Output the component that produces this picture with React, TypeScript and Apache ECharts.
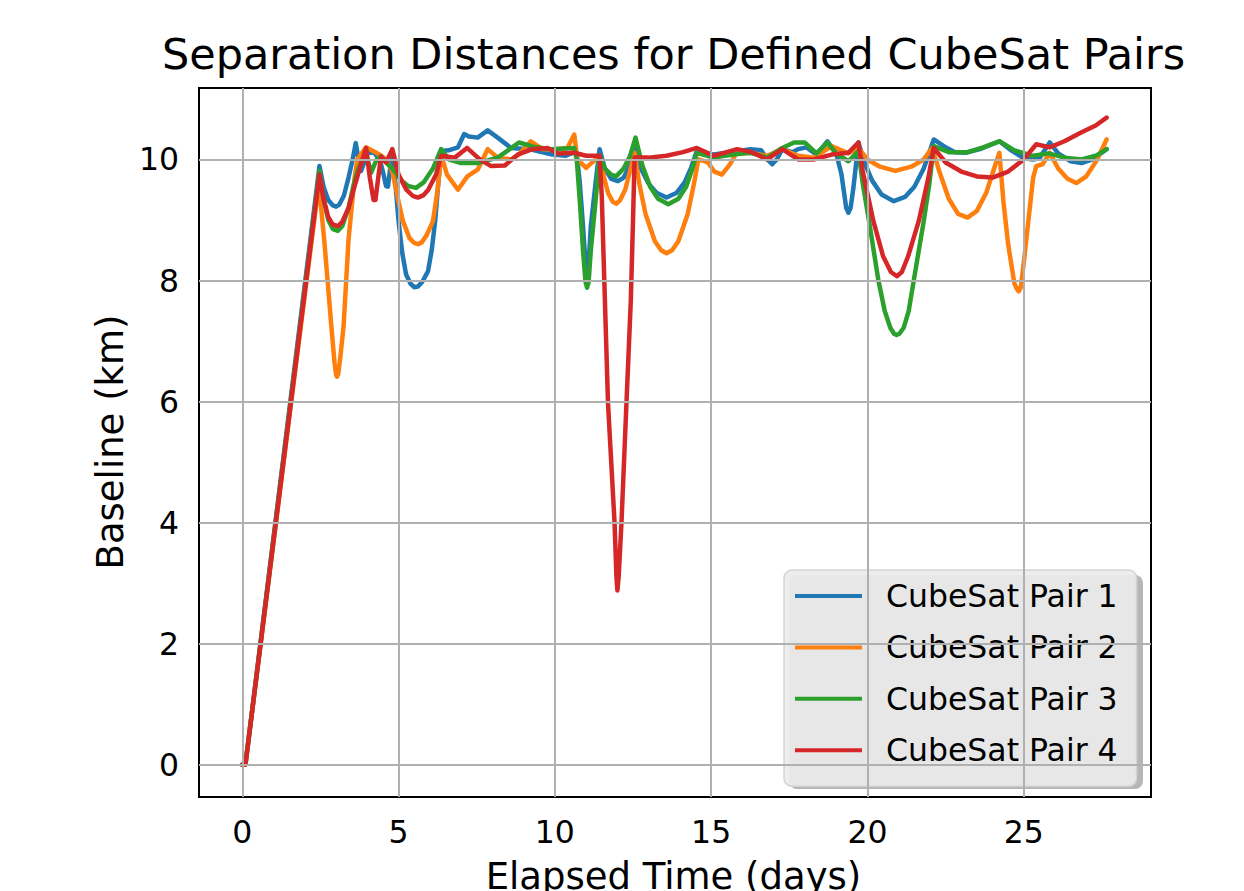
import React, { useEffect, useRef } from 'react';
import * as echarts from 'echarts';

const titleText = 'Separation Distances for Defined CubeSat Pairs';
const xLabel = 'Elapsed Time (days)';
const yLabel = 'Baseline (km)';
const seriesNames = ['CubeSat Pair 1', 'CubeSat Pair 2', 'CubeSat Pair 3', 'CubeSat Pair 4'];
const seriesColors = ['#1f77b4', '#ff7f0e', '#2ca02c', '#d62728'];
const xTicks = [0, 5, 10, 15, 20, 25];
const yTicks = [0, 2, 4, 6, 8, 10];

const pair1 = [
  [0, 0], [0.1, 0], [2.47, 9.89],
  [2.6, 9.55], [2.75, 9.33], [2.9, 9.24], [3.0, 9.22], [3.1, 9.25], [3.25, 9.4], [3.4, 9.7], [3.53, 10.0], [3.63, 10.27],
  [3.72, 10.0], [3.8, 9.81], [3.9, 9.95], [4.0, 10.1], [4.2, 10.12], [4.4, 10.0], [4.52, 9.75], [4.6, 9.56], [4.66, 9.55], [4.72, 9.8], [4.8, 10.14],
  [4.9, 9.6], [5.0, 8.98], [5.12, 8.45], [5.24, 8.1], [5.38, 7.95], [5.5, 7.89], [5.62, 7.9], [5.76, 7.98], [5.94, 8.15], [6.06, 8.5], [6.17, 8.98], [6.27, 9.6], [6.36, 10.14],
  [6.6, 10.15], [6.9, 10.2], [7.1, 10.42], [7.25, 10.38], [7.53, 10.36], [7.85, 10.48], [8.17, 10.36], [8.6, 10.19], [9.17, 10.17], [9.92, 10.08], [10.35, 10.06], [10.62, 10.12],
  [10.7, 10.1], [10.8, 9.6], [10.9, 8.9], [10.98, 8.28], [11.03, 8.18], [11.08, 8.28], [11.15, 8.9], [11.3, 9.6], [11.43, 10.17],
  [11.6, 9.85], [11.8, 9.68], [12.02, 9.64], [12.2, 9.7], [12.4, 9.9], [12.55, 10.2],
  [12.75, 9.85], [13.0, 9.6], [13.25, 9.45], [13.57, 9.37], [13.9, 9.45], [14.15, 9.62], [14.35, 9.85], [14.54, 10.14],
  [15.08, 10.08], [15.6, 10.12], [16.26, 10.17], [16.6, 10.15], [16.8, 10.0], [16.95, 9.92], [17.1, 10.0], [17.27, 10.17], [17.6, 10.12], [17.78, 10.17], [18.05, 10.2], [18.37, 10.08], [18.72, 10.3], [19.01, 10.08], [19.17, 9.75], [19.32, 9.2], [19.39, 9.12], [19.46, 9.2], [19.55, 9.53], [19.71, 10.28],
  [19.9, 9.95], [20.15, 9.65], [20.45, 9.42], [20.84, 9.31], [21.2, 9.38], [21.5, 9.55], [21.8, 9.85], [22.12, 10.33],
  [22.5, 10.2], [22.8, 10.12], [23.14, 10.11], [23.6, 10.17], [24.22, 10.3], [24.6, 10.15], [25.0, 10.02], [25.29, 10.0], [25.5, 10.02], [25.83, 10.28], [26.1, 10.1], [26.5, 9.97], [26.85, 9.94], [27.2, 10.0], [27.65, 10.17],
];

const pair2 = [
  [0, 0], [0.1, 0], [2.45, 9.6], [2.63, 8.62], [2.85, 7.24], [2.95, 6.65], [3.0, 6.45], [3.03, 6.41], [3.07, 6.45], [3.14, 6.75], [3.24, 7.24], [3.4, 8.68], [3.59, 9.68], [3.68, 10.0], [3.96, 10.2], [4.39, 10.08],
  [4.6, 10.0], [4.8, 9.8], [5.0, 9.3], [5.14, 8.98], [5.35, 8.7], [5.5, 8.62], [5.62, 8.6], [5.74, 8.63], [5.9, 8.75], [6.1, 8.98], [6.25, 9.5], [6.36, 10.08],
  [6.55, 9.75], [6.9, 9.5], [7.2, 9.72], [7.53, 9.83], [7.85, 10.17], [8.17, 10.03], [8.6, 10.0], [8.85, 10.08], [9.23, 10.3], [9.6, 10.17], [10.0, 10.17], [10.4, 10.19], [10.62, 10.41], [10.72, 10.0], [11.0, 9.86], [11.3, 10.0], [11.43, 10.06],
  [11.55, 9.75], [11.7, 9.45], [11.85, 9.3], [11.96, 9.27], [12.08, 9.32], [12.25, 9.5], [12.4, 9.8], [12.55, 10.11],
  [12.7, 9.6], [12.9, 9.1], [13.2, 8.65], [13.4, 8.5], [13.57, 8.45], [13.75, 8.5], [13.95, 8.65], [14.25, 9.1], [14.45, 9.6], [14.59, 10.0],
  [14.9, 9.95], [15.1, 9.8], [15.34, 9.75], [15.6, 9.92], [15.8, 10.1], [16.26, 10.11], [16.8, 10.06], [17.27, 10.17], [17.78, 10.06], [18.3, 10.03], [18.85, 10.22], [19.39, 10.1], [19.71, 10.19],
  [20.0, 10.0], [20.4, 9.88], [20.89, 9.81], [21.4, 9.88], [21.8, 10.0], [22.07, 10.19],
  [22.3, 9.8], [22.6, 9.35], [22.9, 9.1], [23.2, 9.04], [23.5, 9.15], [23.8, 9.45], [24.05, 9.85], [24.22, 10.11],
  [24.35, 9.3], [24.5, 8.6], [24.7, 7.95], [24.79, 7.85], [24.84, 7.82], [24.9, 7.88], [24.98, 8.2], [25.15, 9.0], [25.3, 9.7], [25.4, 9.89], [25.6, 9.92], [25.83, 10.11],
  [26.1, 9.85], [26.4, 9.68], [26.68, 9.61], [27.0, 9.72], [27.35, 10.0], [27.65, 10.33],
];

const pair3 = [
  [0, 0], [0.1, 0], [2.47, 9.81], [2.6, 9.35], [2.75, 9.0], [2.9, 8.85], [3.06, 8.82], [3.2, 8.9], [3.4, 9.2], [3.55, 9.55], [3.7, 9.83], [3.85, 10.0], [3.96, 10.1], [4.12, 9.78], [4.3, 10.0], [4.44, 10.05], [4.6, 9.95],
  [4.8, 9.85], [5.1, 9.65], [5.3, 9.56], [5.56, 9.53], [5.8, 9.62], [6.1, 9.85], [6.36, 10.17],
  [6.6, 10.0], [7.0, 9.94], [7.53, 9.94], [8.17, 10.03], [8.5, 10.15], [8.85, 10.28], [9.4, 10.2], [9.9, 10.17], [10.62, 10.19], [10.7, 10.0],
  [10.8, 9.3], [10.9, 8.5], [10.98, 7.98], [11.03, 7.88], [11.08, 7.98], [11.15, 8.5], [11.3, 9.3], [11.43, 10.06],
  [11.6, 9.85], [11.8, 9.75], [11.96, 9.72], [12.2, 9.85], [12.4, 10.05], [12.58, 10.36],
  [12.8, 9.9], [13.05, 9.55], [13.3, 9.35], [13.63, 9.26], [13.95, 9.35], [14.2, 9.55], [14.4, 9.85], [14.54, 10.11],
  [15.08, 10.03], [15.7, 10.08], [16.26, 10.11], [16.8, 10.03], [17.27, 10.19], [17.65, 10.28], [17.99, 10.28], [18.37, 10.1], [18.72, 10.28], [19.0, 10.1], [19.39, 9.97], [19.71, 10.14],
  [19.85, 9.6], [20.05, 8.98], [20.35, 8.0], [20.55, 7.5], [20.73, 7.22], [20.85, 7.12], [20.93, 7.1], [21.02, 7.12], [21.16, 7.22], [21.32, 7.5], [21.48, 8.0], [21.8, 8.98], [21.98, 9.6], [22.12, 10.22],
  [22.6, 10.12], [23.2, 10.12], [23.7, 10.2], [24.22, 10.3], [24.7, 10.15], [25.29, 10.06], [25.8, 10.1], [26.3, 10.03], [26.85, 10.0], [27.3, 10.06], [27.65, 10.17],
];

const pair4 = [
  [0, 0], [0.1, 0], [2.47, 9.75], [2.6, 9.35], [2.75, 9.05], [2.9, 8.92], [3.06, 8.9], [3.2, 8.97], [3.4, 9.2], [3.55, 9.48], [3.7, 9.75], [3.96, 10.19], [4.08, 9.7], [4.2, 9.33], [4.26, 9.33], [4.35, 9.7], [4.44, 10.05], [4.6, 9.95], [4.8, 10.17],
  [5.0, 9.75], [5.25, 9.5], [5.45, 9.4], [5.62, 9.37], [5.8, 9.41], [5.95, 9.5], [6.2, 9.75], [6.36, 10.06],
  [6.8, 10.03], [7.19, 10.19], [7.6, 10.0], [7.96, 9.89], [8.4, 9.9], [8.81, 10.08], [9.28, 10.17], [9.76, 10.19], [10.1, 10.1], [10.62, 10.11], [11.0, 10.06], [11.43, 10.06],
  [11.5, 9.4], [11.6, 7.68], [11.7, 5.97], [11.91, 3.99], [11.97, 3.1], [12.0, 2.88], [12.04, 3.1], [12.13, 3.99], [12.29, 5.97], [12.43, 7.68], [12.5, 9.0], [12.55, 10.03],
  [13.0, 10.03], [13.57, 10.06], [14.1, 10.12], [14.54, 10.19], [15.08, 10.06], [15.83, 10.17], [16.3, 10.12], [16.79, 10.0], [17.27, 10.17], [17.78, 10.0], [18.3, 10.0], [18.85, 10.08], [19.39, 10.11], [19.71, 10.28],
  [19.85, 9.8], [20.19, 8.98], [20.5, 8.4], [20.75, 8.14], [20.94, 8.07], [21.1, 8.14], [21.3, 8.4], [21.64, 8.98], [21.95, 9.7], [22.12, 10.19],
  [22.5, 9.95], [23.0, 9.8], [23.5, 9.72], [24.0, 9.7], [24.5, 9.8], [25.0, 10.0], [25.4, 10.25], [25.83, 10.2], [26.3, 10.3], [26.85, 10.45], [27.3, 10.56], [27.65, 10.69],
];

const seriesData = [pair1, pair2, pair3, pair4];

const FONT = 'DejaVu Sans';

export default function App() {
  const ref = useRef<HTMLDivElement>(null);
  useEffect(() => {
    if (!ref.current) return;
    const chart = echarts.init(ref.current, null, { renderer: 'svg' });
    const gridLines = [
      ...xTicks.map((v) => ({ xAxis: v })),
      ...yTicks.map((v) => ({ yAxis: v })),
    ];
    const option: any = {
      animation: false,
      backgroundColor: '#ffffff',
      grid: {
        left: 199, top: 88, right: 93, bottom: 94,
        show: true, borderColor: '#000000', borderWidth: 2, backgroundColor: 'transparent',
      },
      xAxis: {
        type: 'value', min: -1.384, max: 29.07,
        axisLine: { show: false },
        axisTick: { show: true, length: 10, inside: false, customValues: xTicks, lineStyle: { color: '#000', width: 2 } },
        axisLabel: { customValues: xTicks, fontSize: 31.5, fontFamily: FONT, color: '#000', margin: 19 },
        splitLine: { show: false },
      },
      yAxis: {
        type: 'value', min: -0.532, max: 11.18,
        axisLine: { show: false },
        axisTick: { show: true, length: 10, inside: false, customValues: yTicks, lineStyle: { color: '#000', width: 2 } },
        axisLabel: { customValues: yTicks, fontSize: 31.5, fontFamily: FONT, color: '#000', margin: 20 },
        splitLine: { show: false },
      },
      legend: {
        data: seriesNames,
        orient: 'vertical',
        left: 784, top: 570,
        padding: [10, 19, 20, 11],
        itemGap: 19.4,
        itemWidth: 67, itemHeight: 4,
        icon: 'rect',
        textStyle: { fontSize: 31.5, fontFamily: FONT, color: '#000', padding: [0, 0, 0, 19] },
        backgroundColor: 'rgba(236,236,236,0.92)',
        borderColor: 'rgba(210,210,210,0.9)', borderWidth: 1.5, borderRadius: 8,
        z: 5,
      },
      graphic: [
        { type: 'text', x: 673.5, y: 54, style: { text: titleText, font: `43px "${FONT}"`, fill: '#000', align: 'center', verticalAlign: 'middle' } },
        { type: 'text', x: 673.5, y: 876, style: { text: xLabel, font: `37px "${FONT}"`, fill: '#000', align: 'center', verticalAlign: 'middle' } },
        { type: 'text', x: 110, y: 442, rotation: Math.PI / 2, style: { text: yLabel, font: `37px "${FONT}"`, fill: '#000', align: 'center', verticalAlign: 'middle' } },
        { type: 'rect', z: 3, shape: { x: 789, y: 575, width: 354, height: 214, r: 8 }, style: { fill: 'rgba(110,110,110,0.5)' } },
      ],
      series: [
        {
          type: 'line', name: '__grid', data: [], silent: true, z: 1,
          markLine: {
            silent: true, symbol: ['none', 'none'], label: { show: false },
            lineStyle: { color: '#b0b0b0', width: 2, type: 'solid' },
            emphasis: { disabled: true },
            data: gridLines,
          },
        },
        ...seriesNames.map((name, i) => ({
          type: 'line', name, data: seriesData[i], showSymbol: false, symbol: 'none',
          lineStyle: { color: seriesColors[i], width: 4.5, join: 'round', cap: 'round' }, itemStyle: { color: seriesColors[i] },
          z: 2 + i * 0.01,
        })),
      ],
    };
    chart.setOption(option);
    return () => chart.dispose();
  }, []);
  return <div ref={ref} style={{ position: 'absolute', left: 0, top: 0, width: 1244, height: 891 }} />;
}
